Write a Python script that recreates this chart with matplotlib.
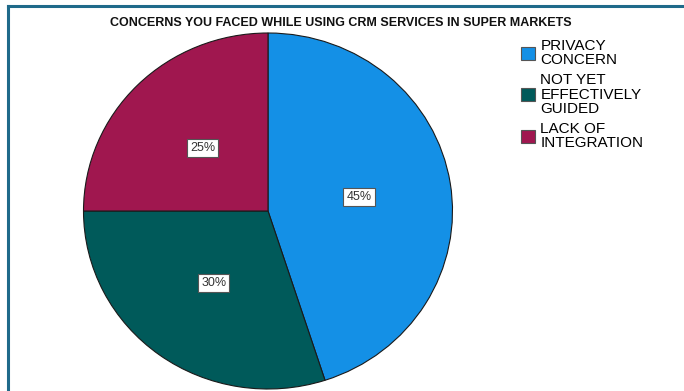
import matplotlib.pyplot as plt
from matplotlib.patches import Patch
from matplotlib.lines import Line2D

plt.rcParams['font.family'] = ['Liberation Sans', 'DejaVu Sans']

# Pay payları (%)
categories = ['PRIVACY\nCONCERN', 'NOT YET\nEFFECTIVELY\nGUIDED', 'LACK OF\nINTEGRATION']
shares = [45, 30, 25]
colors = ['#1490e6', '#005a5a', '#a0174f']
title = 'CONCERNS YOU FACED WHILE USING CRM SERVICES IN SUPER MARKETS'

W, H = 684, 391
fig = plt.figure(figsize=(W / 100, H / 100), dpi=100)
ax = fig.add_axes([0, 0, 1, 1])

wedges, texts, autotexts = ax.pie(
    shares, colors=colors, startangle=90, counterclock=False,
    autopct='%d%%', pctdistance=0.5,
    wedgeprops=dict(edgecolor='#1a1a1a', linewidth=0.8),
    textprops=dict(fontsize=9, color='#333333'))
for t in autotexts:
    t.set_bbox(dict(facecolor='white', edgecolor='#555555', linewidth=0.8, boxstyle='square,pad=0.25'))

# Pasta merkezi ve yarıçap (piksel) -> eksen sınırları
cx, cy, rx, ry = 268, 391 - 211, 184.5, 178
ax.set_aspect('auto')
ax.set_xlim(-cx / rx, (W - cx) / rx)
ax.set_ylim(-cy / ry, (H - cy) / ry)
ax.axis('off')

fig.text(341 / W, 1 - 23 / H, title, ha='center', va='center',
         fontsize=9, fontweight='bold', color='#111111')

# Lejant
handles = [Patch(facecolor=c, edgecolor='#555555', linewidth=0.8) for c in colors]
leg = fig.legend(handles, categories, loc='upper left', bbox_to_anchor=(521 / W, 1 - 39 / H),
                 frameon=False, fontsize=11, handlelength=0.92, handleheight=0.92,
                 handletextpad=0.35, labelspacing=0.4, borderaxespad=0, borderpad=0)
for t in leg.get_texts():
    t.set_linespacing(1.02)

# Çerçeve çizgisi (sol ve üst)
bc = '#1f6a8a'
fig.add_artist(Line2D([7.5 / W, 7.5 / W], [0, 1 - 5.5 / H], color=bc, linewidth=2.2, transform=fig.transFigure))
fig.add_artist(Line2D([7.5 / W, 1], [1 - 5.5 / H, 1 - 5.5 / H], color=bc, linewidth=2.2, transform=fig.transFigure))

fig.savefig('out.png', dpi=100)
